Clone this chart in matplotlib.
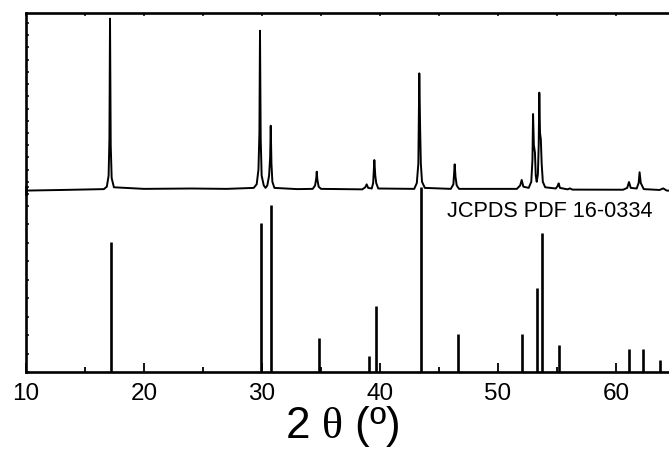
import matplotlib
matplotlib.use("Agg")
import matplotlib.pyplot as plt
from matplotlib.ticker import MultipleLocator, NullFormatter

plt.rcParams['font.family'] = ['Liberation Sans', 'DejaVu Sans']
plt.rcParams['mathtext.fontset'] = 'custom'
plt.rcParams['mathtext.rm'] = 'Liberation Serif'

# measured XRD pattern (2theta, intensity in arbitrary units)
xrd_2theta = [10.0, 13.0, 16.6,
              16.85, 17.0, 17.07, 17.12, 17.18, 17.26, 17.45,
              20.0, 24.0, 27.0, 29.3,
              29.55, 29.7, 29.78, 29.83, 29.89, 29.97, 30.15,
              30.3,
              30.45, 30.6, 30.69, 30.74, 30.8, 30.88, 31.05,
              33.0, 34.3, 34.5, 34.6, 34.64, 34.69, 34.8, 35.0,
              38.5, 38.75, 38.87, 39.0, 39.3, 39.42, 39.52, 39.6, 39.68, 39.85,
              42.9, 43.12, 43.25, 43.33, 43.4, 43.46, 43.56, 43.8,
              46.0, 46.22, 46.33, 46.4, 46.5, 46.7,
              51.6, 51.88, 52.01, 52.15, 52.6, 52.82, 52.92, 52.97, 53.04, 53.13,
              53.2, 53.28, 53.38, 53.45, 53.5, 53.56, 53.63, 53.7, 53.8, 54.0,
              54.9, 55.05, 55.14, 55.25, 55.9, 56.1, 56.3,
              60.6, 60.95, 61.1, 61.25, 61.75, 61.92, 62.0, 62.1, 62.35,
              63.7, 64.0, 64.3, 65.5]
xrd_intensity = [0.28, 0.33, 0.40,
                 0.6, 1.5, 4.5, 14.36, 4.0, 1.3, 0.55,
                 0.42, 0.45, 0.42, 0.5,
                 0.8, 2.0, 5.0, 13.37, 4.5, 1.5, 0.7,
                 0.5,
                 0.7, 1.5, 3.0, 5.59, 2.5, 1.0, 0.5,
                 0.4, 0.42, 0.7, 1.3, 1.83, 1.2, 0.6, 0.42,
                 0.38, 0.55, 0.79, 0.5, 0.45, 0.9, 2.78, 1.5, 0.9, 0.45,
                 0.42, 0.9, 2.5, 9.88, 5.4, 2.5, 1.0, 0.5,
                 0.42, 0.8, 2.43, 1.4, 0.7, 0.42,
                 0.42, 0.7, 1.15, 0.6, 0.5, 1.0, 2.8, 6.55, 4.0, 3.4,
                 1.5, 1.0, 1.6, 4.0, 8.3, 5.0, 4.48, 2.5, 1.0, 0.55,
                 0.45, 0.65, 0.87, 0.5, 0.38, 0.46, 0.36,
                 0.35, 0.5, 0.98, 0.5, 0.45, 0.9, 1.78, 0.9, 0.4,
                 0.33, 0.46, 0.28, 0.25]

# JCPDS PDF 16-0334 reference lines
ref_2theta = [17.2, 29.95, 30.74, 34.83, 39.07, 39.64, 43.45, 46.58,
              52.0, 53.28, 53.75, 55.19, 61.1, 62.3, 63.73]
ref_intensity = [70.4, 80.4, 90.3, 18.5, 8.8, 35.7, 100, 20.5,
                 20.5, 45.6, 75.3, 14.4, 12.4, 12.4, 6.5]

x_labels = [10, 20, 30, 40, 50, 60]

W, H = 669, 453
fig = plt.figure(figsize=(W / 100, H / 100), dpi=100)

left = 26 / W
width = 708 / W
ax_ref = fig.add_axes([left, 1 - 372 / H, width, 185 / H])
ax_xrd = fig.add_axes([left, 1 - 194 / H, width, 181 / H])
ax_xrd.set_facecolor('none')

# reference sticks
ax_ref.vlines(ref_2theta, 0, ref_intensity, color='black', linewidth=1.9)
ax_ref.set_xlim(10, 70)
ax_ref.set_ylim(0, 100)
ax_ref.spines['top'].set_visible(False)
ax_ref.spines['right'].set_visible(False)
ax_ref.set_xticks(x_labels)
ax_ref.xaxis.set_minor_locator(MultipleLocator(5))
ax_ref.yaxis.set_major_locator(MultipleLocator(10))
ax_ref.yaxis.set_major_formatter(NullFormatter())
ax_ref.tick_params(axis='x', which='major', direction='in', length=6.5, width=1.3,
                   labelsize=17.5, pad=8)
ax_ref.tick_params(axis='x', which='minor', direction='in', length=3.6, width=1.3)
ax_ref.tick_params(axis='y', which='major', direction='in', length=2.5, width=1.1)
ax_ref.text(45.68, 83.9, 'JCPDS PDF 16-0334', fontsize=15.6, ha='left', va='baseline')

# measured pattern
ax_xrd.plot(xrd_2theta, xrd_intensity, color='black', linewidth=1.4)
ax_xrd.set_xlim(10, 70)
ax_xrd.set_ylim(0, 181 / 12.21)
ax_xrd.spines['bottom'].set_visible(False)
ax_xrd.spines['right'].set_visible(False)
ax_xrd.xaxis.tick_top()
ax_xrd.xaxis.set_major_locator(MultipleLocator(5))
ax_xrd.xaxis.set_major_formatter(NullFormatter())
ax_xrd.yaxis.set_major_locator(MultipleLocator(1))
ax_xrd.yaxis.set_major_formatter(NullFormatter())
ax_xrd.tick_params(axis='x', direction='in', length=2.5, width=1.1)
ax_xrd.tick_params(axis='y', direction='in', length=2.5, width=1.1)

for ax in (ax_ref, ax_xrd):
    for sp in ax.spines.values():
        sp.set_linewidth(1.9)

fig.text(342 / W, 1 - 438 / H, r'2 $\mathrm{\theta}$ (º)', fontsize=31.7,
         ha='center', va='baseline')

fig.savefig('out.png', dpi=100)
